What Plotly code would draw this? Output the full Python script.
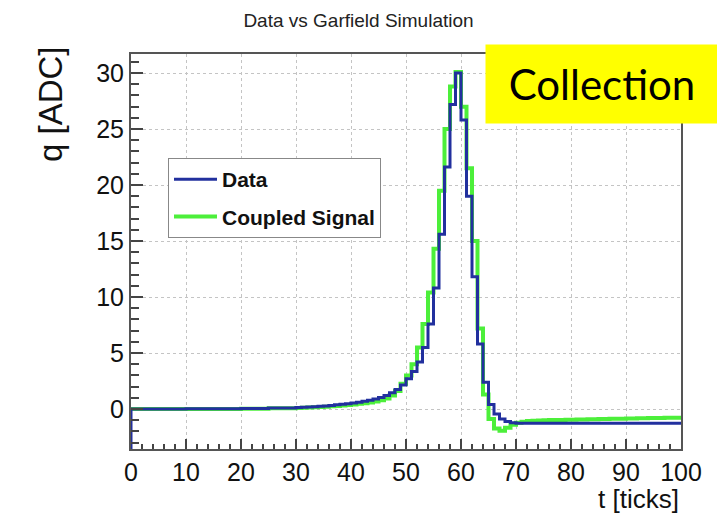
import plotly.graph_objects as go

# ---- data ----
t_edges = list(range(0, 101))  # bin edges, 1 tick per bin

data_q = [
    0.00, 0.00, 0.00, 0.00, 0.00, 0.00, 0.00, 0.00, 0.00, 0.00,
    0.02, 0.02, 0.02, 0.02, 0.02, 0.02, 0.02, 0.02, 0.02, 0.02,
    0.05, 0.05, 0.05, 0.05, 0.05, 0.09, 0.09, 0.09, 0.09, 0.09,
    0.13, 0.15, 0.18, 0.21, 0.24, 0.28, 0.32, 0.37, 0.42, 0.48,
    0.54, 0.61, 0.69, 0.78, 0.89, 1.02, 1.20, 1.45, 1.75, 2.15,
    2.70, 3.35, 4.20, 5.50, 7.60, 10.8, 15.6, 21.6, 27.2, 30.0,
    25.8, 19.0, 11.8, 5.80, 2.40, 0.40, -0.45, -0.90, -1.12, -1.22,
    -1.26, -1.26, -1.27, -1.27, -1.27, -1.27, -1.27, -1.27, -1.27, -1.27,
    -1.27, -1.27, -1.27, -1.27, -1.27, -1.27, -1.27, -1.27, -1.27, -1.27,
    -1.27, -1.27, -1.27, -1.27, -1.27, -1.27, -1.27, -1.27, -1.27, -1.27,
]

coupled_q = [
    0.00, 0.00, 0.00, 0.00, 0.00, 0.00, 0.00, 0.00, 0.00, 0.00,
    0.01, 0.01, 0.01, 0.01, 0.01, 0.01, 0.01, 0.01, 0.01, 0.01,
    0.03, 0.03, 0.03, 0.03, 0.03, 0.06, 0.06, 0.06, 0.06, 0.06,
    0.09, 0.11, 0.13, 0.15, 0.18, 0.21, 0.24, 0.28, 0.32, 0.36,
    0.41, 0.46, 0.52, 0.59, 0.68, 0.79, 0.95, 1.20, 1.60, 2.25,
    3.00, 4.00, 5.50, 7.60, 10.4, 14.3, 19.5, 25.0, 28.8, 30.1,
    27.0, 21.5, 15.0, 7.20, 1.30, -0.90, -1.75, -1.93, -1.68, -1.40,
    -1.22, -1.13, -1.08, -1.05, -1.03, -1.01, -0.99, -0.98, -0.97, -0.96,
    -0.95, -0.94, -0.93, -0.92, -0.91, -0.90, -0.89, -0.88, -0.87, -0.86,
    -0.85, -0.84, -0.83, -0.82, -0.81, -0.80, -0.80, -0.79, -0.79, -0.78,
]

x_ticks = [0, 10, 20, 30, 40, 50, 60, 70, 80, 90, 100]
y_ticks = [0, 5, 10, 15, 20, 25, 30]
X_RANGE = [0, 100]
Y_RANGE = [-3.57, 31.7]

BLUE = "#22309e"
GREEN = "#4cef3a"
FONT = "Liberation Sans"

fig = go.Figure()

# Coupled signal (green) histogram, drawn below
fig.add_trace(go.Scatter(
    x=t_edges, y=coupled_q + [coupled_q[-1]],
    mode="lines", line=dict(color=GREEN, width=4, shape="hv"),
    name="Coupled Signal", legendgroup="b", legendrank=2,
))
# Data (blue) histogram; starts from the bottom of the frame like ROOT does
fig.add_trace(go.Scatter(
    x=[t_edges[0]] + t_edges, y=[Y_RANGE[0]] + data_q + [data_q[-1]],
    mode="lines", line=dict(color=BLUE, width=3, shape="hv"),
    name="Data", legendgroup="a", legendrank=1,
))

axis_common = dict(
    showline=True, linecolor="#555555", linewidth=2, mirror=True,
    showgrid=True, gridcolor="#c4c4c4", griddash="dot", gridwidth=1,
    zeroline=False, ticks="inside", tickcolor="#444444",
    tickfont=dict(family=FONT, size=25, color="#111111"),
)

fig.update_xaxes(
    range=X_RANGE, tickvals=x_ticks, ticklen=10, tickwidth=1.5,
    minor=dict(dtick=2, tick0=0, ticks="inside", ticklen=5, tickcolor="#444444", showgrid=False),
    **axis_common,
)
fig.update_yaxes(
    range=Y_RANGE, tickvals=y_ticks, ticklen=12, tickwidth=1.5,
    minor=dict(dtick=1, tick0=0, ticks="inside", ticklen=8, tickcolor="#444444", showgrid=False),
    **axis_common,
)

L, R, T, B = 131, 36, 54, 66
W, H = 717, 515
PW, PH = W - L - R, H - T - B

def px_x(px):
    return (px - L) / PW

def px_y(py):
    return (H - B - py) / PH

fig.update_layout(
    width=W, height=H,
    margin=dict(l=L, r=R, t=T, b=B, pad=0),
    paper_bgcolor="white", plot_bgcolor="white",
    title=dict(text="Data vs Garfield Simulation", x=0.5, xanchor="center",
               y=1 - 20 / H, yanchor="middle",
               font=dict(family=FONT, size=19, color="#222222")),
    showlegend=True,
    legend=dict(
        x=px_x(168), y=px_y(158), xanchor="left", yanchor="top",
        bgcolor="white", bordercolor="#888888", borderwidth=1,
        font=dict(family=FONT, size=21, color="#111111", weight="bold"),
        tracegroupgap=7, itemwidth=43, traceorder="grouped",
    ),
    annotations=[
        dict(text="q [ADC]", textangle=-90, x=px_x(50), y=px_y(44),
             xref="paper", yref="paper", xanchor="center", yanchor="top",
             showarrow=False, font=dict(family=FONT, size=33, color="#111111")),
        dict(text="t [ticks]", x=px_x(681), y=px_y(499),
             xref="paper", yref="paper", xanchor="right", yanchor="middle",
             showarrow=False, font=dict(family=FONT, size=26, color="#111111")),
        dict(text="Collection", x=px_x(485), y=px_y(44),
             xref="paper", yref="paper", xanchor="left", yanchor="top",
             width=232, height=78, bgcolor="#ffff00", borderpad=0,
             showarrow=False, font=dict(family="Lato", size=42, color="#000000")),
    ],
)

fig.write_html("out.html")
